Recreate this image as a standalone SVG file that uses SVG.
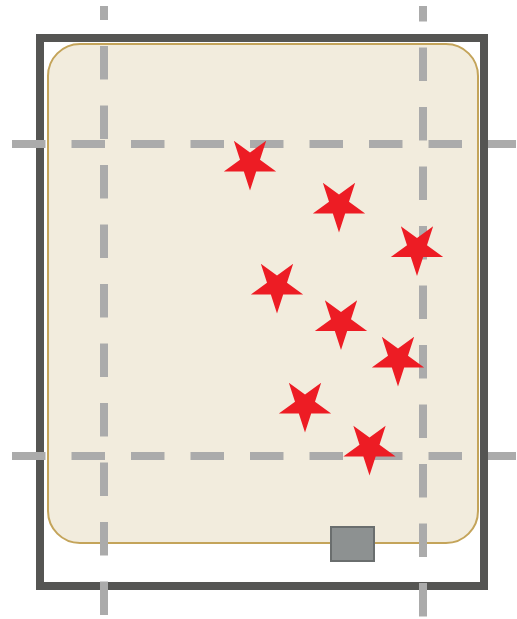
<svg xmlns="http://www.w3.org/2000/svg" xmlns:xlink="http://www.w3.org/1999/xlink" width="517" height="619" viewBox="0 0 517 619">
  <style>
    .frame { fill: none; stroke: #555553; stroke-width: 8; }
    .panel { fill: #f2ecdd; stroke: #c4a45a; stroke-width: 2; }
    .grid { stroke: #ababab; stroke-width: 8; stroke-dasharray: 33.5 26; fill: none; }
    .marker { fill: #ed1c24; }
    .box { fill: #8d9191; stroke: #6a6e6e; stroke-width: 2; }
  </style>
  <defs>
    <path id="star" d="M0,27.5 L6.17,8.49 L26.15,8.5 L9.99,-3.24 L16.16,-22.25 L0,-10.5 L-16.16,-22.25 L-9.99,-3.24 L-26.15,8.5 L-6.17,8.49 Z"/>
  </defs>
  <g id="frame">
    <rect class="frame" x="40" y="38" width="444" height="548"/>
  </g>
  <g id="panel">
    <rect class="panel" x="48" y="44" width="430" height="499" rx="32" ry="32"/>
  </g>
  <g id="connectors">
    <line class="grid" x1="104" y1="6" x2="104" y2="615" stroke-dashoffset="19.5"/>
    <line class="grid" x1="423" y1="6" x2="423" y2="617.5" stroke-dashoffset="18"/>
    <line class="grid" x1="12" y1="144" x2="516" y2="144"/>
    <line class="grid" x1="12" y1="456" x2="516" y2="456"/>
  </g>
  <g id="box">
    <rect class="box" x="331" y="527" width="43" height="34"/>
  </g>
  <g id="stars">
    <use id="star1" class="marker" xlink:href="#star" href="#star" transform="translate(250,163)"/>
    <use id="star2" class="marker" xlink:href="#star" href="#star" transform="translate(339,205)"/>
    <use id="star3" class="marker" xlink:href="#star" href="#star" transform="translate(417,248.5)"/>
    <use id="star4" class="marker" xlink:href="#star" href="#star" transform="translate(277,286)"/>
    <use id="star5" class="marker" xlink:href="#star" href="#star" transform="translate(341,322.5)"/>
    <use id="star6" class="marker" xlink:href="#star" href="#star" transform="translate(398,359)"/>
    <use id="star7" class="marker" xlink:href="#star" href="#star" transform="translate(305,405)"/>
    <use id="star8" class="marker" xlink:href="#star" href="#star" transform="translate(369.5,448)"/>
  </g>
</svg>
